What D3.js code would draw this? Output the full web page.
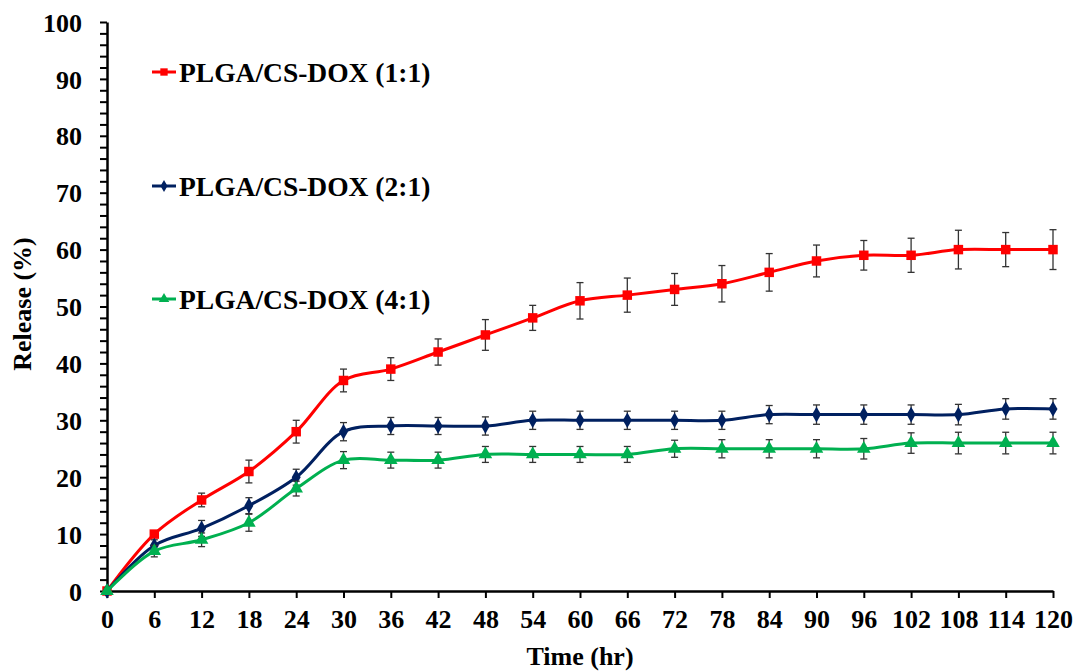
<!DOCTYPE html>
<html><head><meta charset="utf-8">
<script src="https://cdn.jsdelivr.net/npm/d3@7"></script>
<style>body{margin:0;background:#fff}svg{display:block}</style>
</head><body><div id="c"></div>
<script>
const times = [0,6,12,18,24,30,36,42,48,54,60,66,72,78,84,90,96,102,108,114,120];
const xTicks = times;
const yTicks = [0,10,20,30,40,50,60,70,80,90,100];
const seriesNames = ["PLGA/CS-DOX (1:1)","PLGA/CS-DOX (2:1)","PLGA/CS-DOX (4:1)"];
const red = [0,10,16,21,28,37,39,42,45,48,51,52,53,54,56,58,59,59,60,60,60];
const redErr = [0,0.5,1.2,2,2,2,2,2.3,2.7,2.2,3.2,3,2.8,3.2,3.3,2.8,2.6,3,3.4,3,3.5];
const blue = [0,8,11,15,20,28,29,29,29,30,30,30,30,30,31,31,31,31,31,32,32];
const blueErr = [0,1,1.4,1.4,1.4,1.6,1.5,1.5,1.6,1.6,1.6,1.6,1.6,1.6,1.6,1.7,1.7,1.7,1.8,1.8,1.8];
const green = [0,7,9,12,18,23,23,23,24,24,24,24,25,25,25,25,25,26,26,26,26];
const greenErr = [0,1,1.2,1.5,1.3,1.5,1.4,1.4,1.4,1.4,1.4,1.4,1.5,1.6,1.6,1.6,1.8,1.8,1.9,1.9,1.9];

const FONT="Liberation Serif";
const W=1079,H=671;
const svg=d3.select("#c").append("svg").attr("width",W).attr("height",H);
const x=d3.scaleLinear().domain([0,120]).range([107,1053]);
const y=d3.scaleLinear().domain([0,100]).range([591,22]);

const gx=svg.append("g").attr("transform","translate(0,591)")
 .call(d3.axisBottom(x).tickValues(xTicks).tickSize(7).tickSizeOuter(0).tickPadding(12));
const gy=svg.append("g").attr("transform","translate(107,0)")
 .call(d3.axisLeft(y).tickValues(d3.range(0,101,2)).tickSize(7).tickSizeOuter(0).tickPadding(18)
   .tickFormat(d=>yTicks.includes(d)?d:""));
[gx,gy].forEach(g=>{g.attr("font-family",FONT);
 g.selectAll(".domain").attr("stroke","#000").attr("stroke-width",2.5);
 g.selectAll(".tick line").attr("stroke","#000").attr("stroke-width",2);
 g.selectAll("text").attr("fill","#000").attr("font-size",26).attr("font-family",FONT).attr("font-weight","bold");});
gy.selectAll("text").attr("dy","0.35em");

svg.append("text").attr("x",580).attr("y",665).attr("text-anchor","middle").attr("font-size",26)
 .attr("font-family",FONT).attr("font-weight","bold").text("Time (hr)");
svg.append("text").attr("transform","translate(31,304) rotate(-90)").attr("text-anchor","middle").attr("font-size",26)
 .attr("font-family",FONT).attr("font-weight","bold").text("Release (%)");

const series=[
 {name:seriesNames[0],v:red,e:redErr,c:"#FF0000",m:d3.symbolSquare,s:90},
 {name:seriesNames[1],v:blue,e:blueErr,c:"#002060",m:d3.symbolDiamond,s:70},
 {name:seriesNames[2],v:green,e:greenErr,c:"#00B050",m:d3.symbolTriangle,s:80}
];
const line=d3.line().x((d,i)=>x(times[i])).y(d=>y(d)).curve(d3.curveCatmullRom.alpha(0.5));
series.forEach(s=>{
 const g=svg.append("g");
 s.v.forEach((v,i)=>{ if(s.e[i]<=0) return;
  const cx=x(times[i]), y1=y(v+s.e[i]), y2=y(v-s.e[i]);
  g.append("line").attr("x1",cx).attr("x2",cx).attr("y1",y1).attr("y2",y2).attr("stroke","#333").attr("stroke-width",1.3);
  [y1,y2].forEach(yy=>g.append("line").attr("x1",cx-3.5).attr("x2",cx+3.5).attr("y1",yy).attr("y2",yy).attr("stroke","#333").attr("stroke-width",1.3));
 });
 g.append("path").datum(s.v).attr("d",line).attr("fill","none").attr("stroke",s.c).attr("stroke-width",3);
 g.selectAll("path.m").data(s.v).join("path").attr("class","m")
  .attr("transform",(d,i)=>`translate(${x(times[i])},${y(d)})`)
  .attr("d",d3.symbol().type(s.m).size(s.s)).attr("fill",s.c);
});

const legY=[72,186,299];
series.forEach((s,i)=>{
 const g=svg.append("g").attr("transform",`translate(152,${legY[i]})`);
 g.append("line").attr("x1",0).attr("x2",24).attr("stroke",s.c).attr("stroke-width",3);
 g.append("path").attr("transform","translate(12,0)").attr("d",d3.symbol().type(s.m).size(s.s*0.6)).attr("fill",s.c);
 g.append("text").attr("x",27).attr("dy","0.35em").attr("font-size",27.5).attr("font-family",FONT).attr("font-weight","bold")
  .attr("fill","#000").text(s.name);
});
</script></body></html>
